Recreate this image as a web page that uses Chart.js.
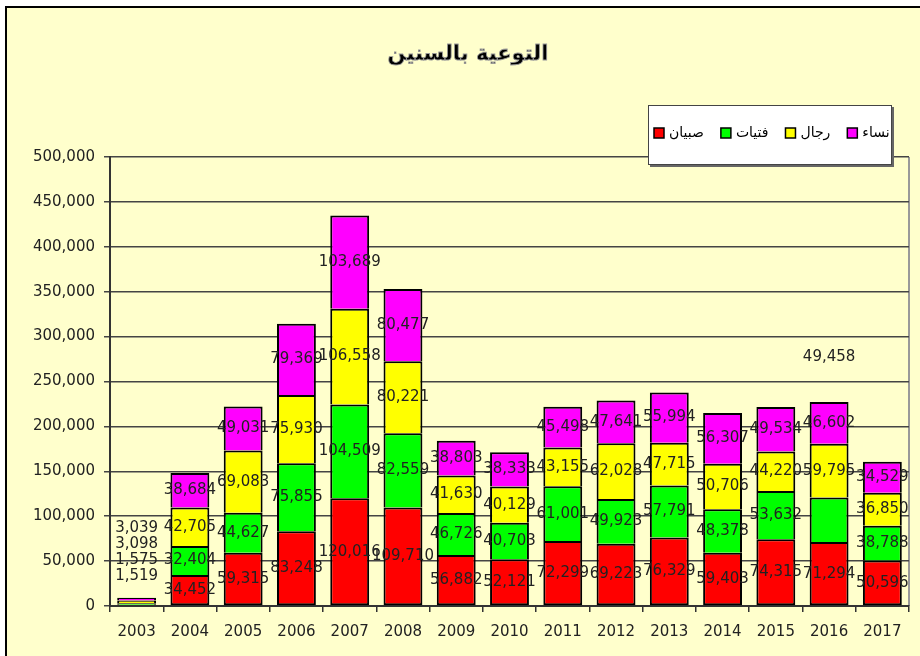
<!DOCTYPE html>
<html>
<head>
<meta charset="utf-8">
<script src="https://cdn.jsdelivr.net/npm/chart.js@4.4.1/dist/chart.umd.min.js"></script>
<style>
body { margin: 0; background: #fff; }
#wrap { width: 920px; height: 656px; position: relative; }
</style>
</head>
<body>
<div id="wrap"><canvas id="chart"></canvas></div>
<script>
// values
var years = ['2003', '2004', '2005', '2006', '2007', '2008', '2009', '2010', '2011', '2012', '2013', '2014', '2015', '2016', '2017'];
var boys  = [1519, 34452, 59315, 83248, 120016, 109710, 56882, 52121, 72299, 69223, 76329, 59403, 74315, 71294, 50596];
var girls = [1575, 32404, 44627, 75855, 104509, 82559, 46726, 40703, 61001, 49923, 57791, 48378, 53632, 49458, 38788];
var men   = [3098, 42705, 69083, 75930, 106558, 80221, 41630, 40129, 43155, 62028, 47715, 50706, 44220, 59795, 36850];
var women = [3039, 38684, 49031, 79369, 103689, 80477, 38803, 38333, 45498, 47641, 55994, 56307, 49534, 46602, 34529];
var seriesNames = ['صبيان', 'فتيات', 'رجال', 'نساء'];
var seriesColors = ['#FF0000', '#00FF00', '#FFFF00', '#FF00FF'];
var yTicks = [0, 50000, 100000, 150000, 200000, 250000, 300000, 350000, 400000, 450000, 500000];
var chartTitle = 'التوعية بالسنين';

// the 2016 girls label was dragged up in the original, keep it there
var movedLabel = { series: 1, index: 13, value: 277000 };

var labelFont = '15px "DejaVu Sans"';

function fmt(v) {
	return v.toLocaleString('en-US');
}

var frame = {
	id: 'frame',
	beforeDraw: function(chart) {
		var ctx = chart.ctx;
		ctx.save();
		ctx.fillStyle = '#ffffff';
		ctx.fillRect(0, 0, chart.width, chart.height);
		ctx.fillStyle = '#FFFFCC';
		ctx.fillRect(6, 7, chart.width, chart.height);
		ctx.strokeStyle = '#000';
		ctx.lineWidth = 2;
		ctx.strokeRect(6, 7, chart.width + 10, chart.height + 10);
		// right edge of the plot area
		var a = chart.chartArea;
		ctx.strokeStyle = '#999';
		ctx.lineWidth = 2;
		ctx.beginPath();
		ctx.moveTo(a.right, a.top);
		ctx.lineTo(a.right, a.bottom);
		ctx.stroke();
		// title
		ctx.fillStyle = '#000';
		ctx.font = 'bold 21px "DejaVu Sans"';
		ctx.textAlign = 'center';
		ctx.textBaseline = 'middle';
		ctx.fillText(chartTitle, 468, 55);
		ctx.lineWidth = 0.8;
		ctx.strokeText(chartTitle, 468, 55);
		ctx.restore();
	}
};

var valueLabels = {
	id: 'valueLabels',
	afterDatasetsDraw: function(chart) {
		var ctx = chart.ctx;
		var yScale = chart.scales.y;
		ctx.save();
		ctx.font = labelFont;
		ctx.fillStyle = '#222';
		ctx.textAlign = 'center';
		ctx.textBaseline = 'middle';
		for (var j = 0; j < years.length; j++) {
			var topMeta = chart.getDatasetMeta(chart.data.datasets.length - 1).data[j];
			var stacked = 0;
			for (var i = 0; i < chart.data.datasets.length; i++) {
				var bar = chart.getDatasetMeta(i).data[j];
				var v = chart.data.datasets[i].data[j];
				var h = Math.abs(bar.base - bar.y);
				var x = bar.x;
				var y = (bar.y + bar.base) / 2;
				if (i === movedLabel.series && j === movedLabel.index) {
					y = yScale.getPixelForValue(movedLabel.value);
				} else if (h < 16) {
					// too thin: stack the labels above the bar
					y = topMeta.y - 22 - stacked * 16;
					stacked++;
				}
				ctx.fillText(fmt(v), x, y);
			}
		}
		ctx.restore();
	}
};

var boxLegend = {
	id: 'boxLegend',
	afterDraw: function(chart) {
		var ctx = chart.ctx;
		ctx.save();
		// shadow then box
		ctx.fillStyle = '#666';
		ctx.fillRect(650, 107, 244, 60);
		ctx.fillStyle = '#fff';
		ctx.fillRect(648, 105, 244, 60);
		ctx.strokeStyle = '#444';
		ctx.lineWidth = 1;
		ctx.strokeRect(648.5, 105.5, 243, 59);
		ctx.beginPath();
		ctx.rect(649, 106, 242, 58);
		ctx.clip();
		ctx.font = '14px "DejaVu Sans"';
		ctx.textBaseline = 'middle';
		ctx.textAlign = 'left';
		var x = 654;
		var cy = 133;
		for (var i = 0; i < seriesNames.length; i++) {
			ctx.fillStyle = seriesColors[i];
			ctx.fillRect(x, cy - 5, 10, 10);
			ctx.strokeStyle = '#000';
			ctx.lineWidth = 1.5;
			ctx.strokeRect(x, cy - 5, 10, 10);
			x += 15;
			ctx.fillStyle = '#000';
			ctx.fillText(seriesNames[i], x, cy);
			x += ctx.measureText(seriesNames[i]).width + 17;
		}
		ctx.restore();
	}
};

var seriesData = [boys, girls, men, women];
var datasets = [];
for (var i = 0; i < seriesData.length; i++) {
	datasets.push({
		label: seriesNames[i],
		data: seriesData[i],
		backgroundColor: seriesColors[i],
		borderColor: '#000',
		borderWidth: { top: 2, left: 2, right: 2, bottom: i === 0 ? 2 : 0 },
		borderSkipped: false,
		barPercentage: 0.73,
		categoryPercentage: 1
	});
}

new Chart(document.getElementById('chart'), {
	type: 'bar',
	data: {
		labels: years,
		datasets: datasets
	},
	options: {
		responsive: true,
		maintainAspectRatio: false,
		animation: false,
		layout: { padding: { left: 0, top: 157, right: 11, bottom: 0 } },
		plugins: {
			legend: { display: false },
			title: { display: false },
			tooltip: { enabled: false }
		},
		scales: {
			x: {
				stacked: true,
				afterFit: function(scale) { scale.height = 50; },
				grid: { drawOnChartArea: false, offset: true, tickLength: 6, color: '#333', lineWidth: 1.5 },
				border: { color: '#333', width: 2 },
				ticks: { color: '#222', font: { family: 'DejaVu Sans', size: 15 }, padding: 11 }
			},
			y: {
				stacked: true,
				min: 0,
				max: 500000,
				afterFit: function(scale) { scale.width = 110; },
				afterBuildTicks: function(scale) {
					scale.ticks = yTicks.map(function(v) { return { value: v }; });
				},
				grid: { color: '#444', lineWidth: 1.5, tickLength: 6 },
				border: { color: '#333', width: 2 },
				ticks: {
					color: '#222',
					font: { family: 'DejaVu Sans', size: 15 },
					padding: 9,
					callback: function(v) { return fmt(v); }
				}
			}
		}
	},
	plugins: [frame, valueLabels, boxLegend]
});
</script>
</body>
</html>
